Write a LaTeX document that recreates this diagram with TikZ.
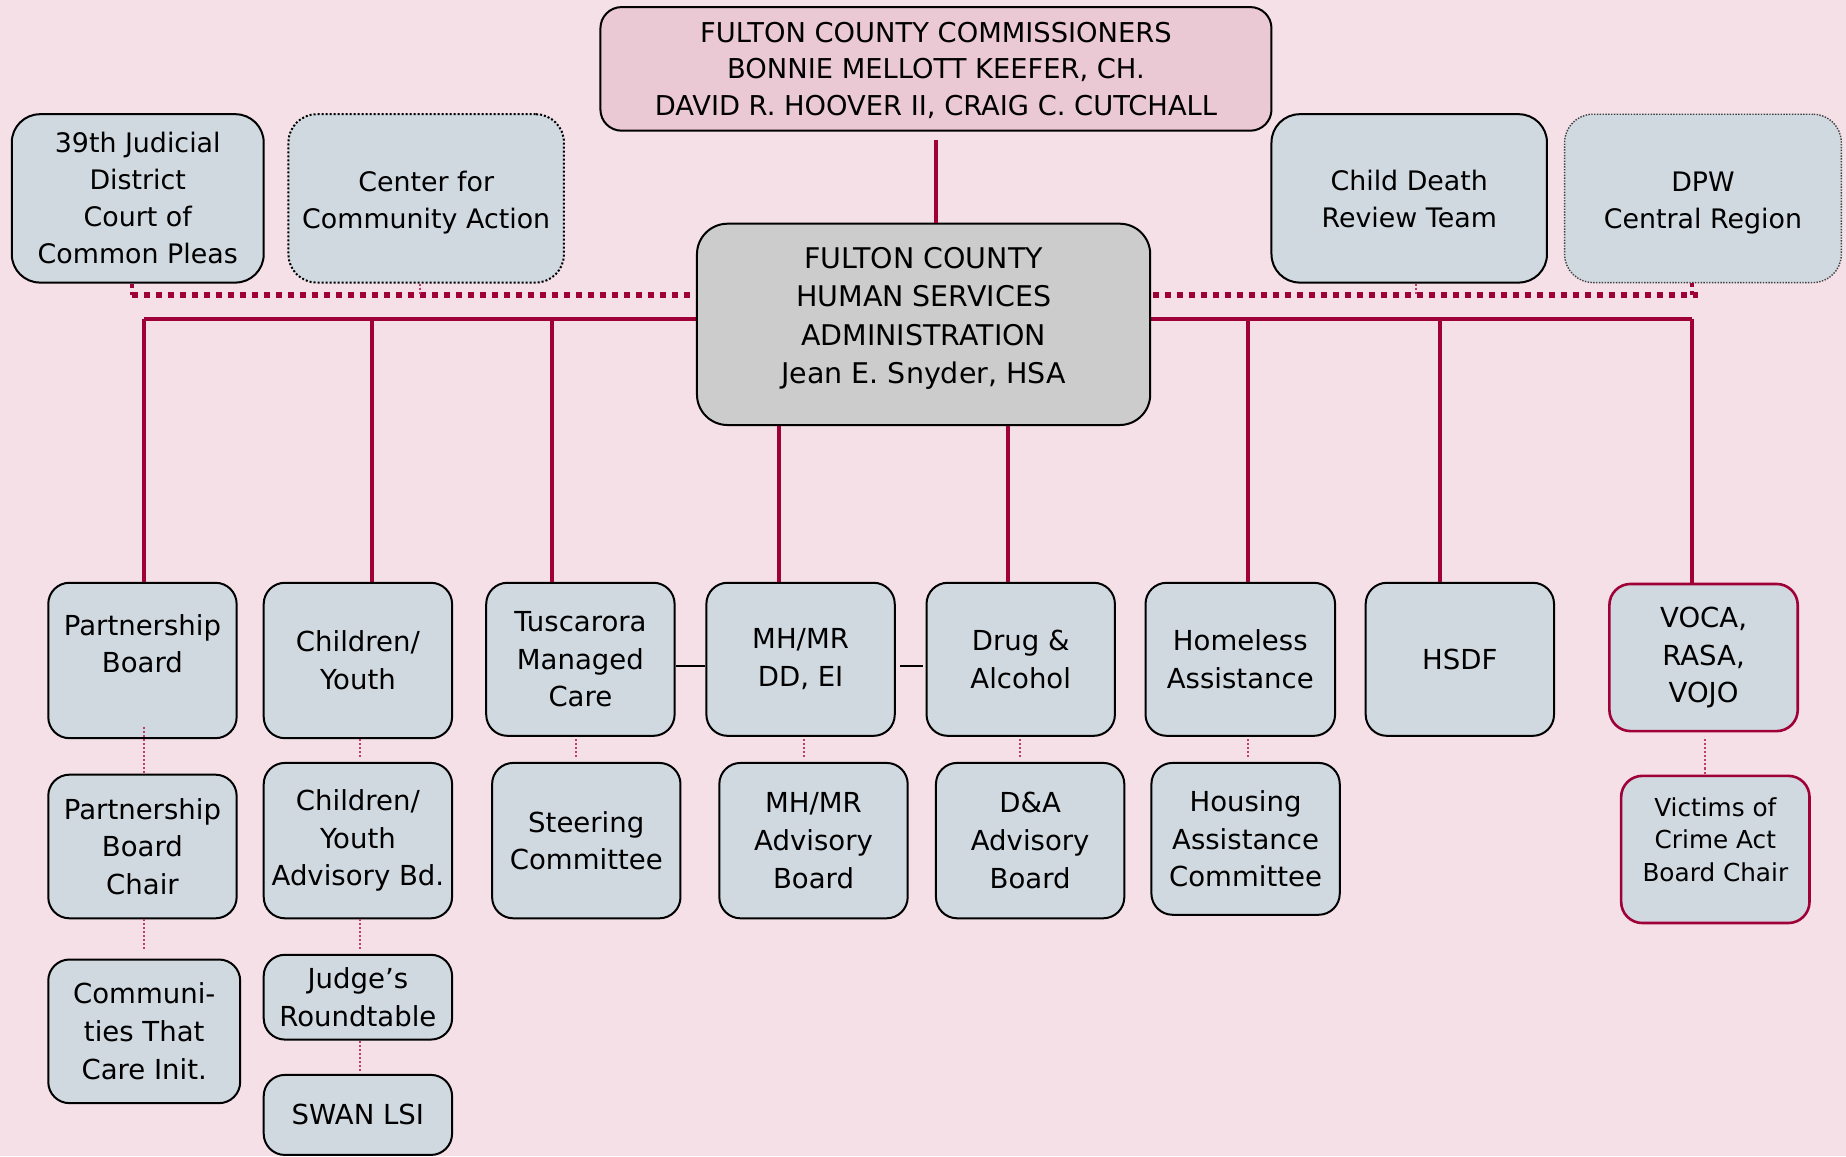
\documentclass[tikz,border=0pt]{standalone}
\usepackage{fontspec}
\setmainfont{DejaVu Sans}
\definecolor{bgc}{RGB}{244,224,230}
\definecolor{boxc}{RGB}{208,216,224}
\definecolor{commc}{RGB}{234,200,212}
\definecolor{hsac}{RGB}{204,204,204}
\definecolor{redc}{RGB}{160,0,56}
\definecolor{dotc}{RGB}{190,60,110}
% box from corners: style, x1, y1, x2, y2, name
\newcommand{\obox}[6]{\node[#1, minimum width={(#4-#2)*0.5pt}, minimum height={(#5-#3)*0.5pt}] (#6) at ({(#2+#4)/2},{(#3+#5)/2})}
% text block moved up (positive) or down (negative) inside its box
\newcommand{\shifted}[2]{\raisebox{#1}[\height][\depth]{\begin{tabular}{@{}c@{}}#2\end{tabular}}}
\begin{document}
\begin{tikzpicture}[x=0.5pt,y=-0.5pt,
  base/.style={draw=black, line width=0.85pt, fill=boxc, inner sep=0pt, align=center,
    font=\fontsize{11.7}{16}\selectfont},
  topbox/.style={base, rounded corners=12pt, font=\fontsize{11.4}{15.7}\selectfont},
  rowbox/.style={base, rounded corners=9pt},
  redbox/.style={rowbox, draw=redc, line width=1.1pt},
  dotbox/.style={topbox, dash pattern=on 0.85pt off 0.85pt},
  finedotbox/.style={topbox, draw=black!75, line width=0.6pt, dash pattern=on 0.6pt off 0.6pt},
  commbox/.style={base, rounded corners=9pt, fill=commc, font=\fontsize{11.6}{15.5}\selectfont},
  hsabox/.style={base, rounded corners=13pt, fill=hsac, font=\fontsize{12.1}{16.3}\selectfont},
  redthick/.style={draw=redc, line width=1.7pt},
  reddots/.style={draw=redc, line width=2.55pt, dash pattern=on 2.55pt off 2.55pt},
  smalldots/.style={draw=redc, line width=1.7pt, dash pattern=on 1.7pt off 1.7pt},
  finedots/.style={draw=dotc, line width=0.85pt, dash pattern=on 0.85pt off 0.85pt},
  blk/.style={draw=black, line width=0.85pt}]
\path[use as bounding box, fill=bgc] (0,0) rectangle (1568,982);

% bus coordinates
\coordinate (busL) at (122,270.7);
\coordinate (busR) at (1437,270.7);
\coordinate (dotL) at (112,250.6);
\coordinate (dotR) at (1442,250.6);
\coordinate (dpwT) at (1437,250.6);
\coordinate (xcy) at (315.7,0);
\coordinate (xtus) at (469,0);
\coordinate (xmh) at (662,0);
\coordinate (xda) at (856,0);
\coordinate (xhom) at (1060,0);
\coordinate (xhsdf) at (1223,0);
\coordinate (xcca) at (356.4,0);
\coordinate (xcdrt) at (1202.7,0);

% lines behind HSA
\draw[reddots] (dotL) -- (dotR);
\draw[redthick] (busL) -- (busR);

% top
\obox{commbox}{510}{6}{1080}{111}{comm}
  {\shifted{-1pt}{FULTON COUNTY COMMISSIONERS\\BONNIE MELLOTT KEEFER, CH.\\DAVID R. HOOVER II, CRAIG C. CUTCHALL}};
\obox{hsabox}{592}{190}{977}{361}{hsa}
  {\shifted{2.5pt}{FULTON COUNTY\\HUMAN SERVICES\\ADMINISTRATION\\Jean E. Snyder, HSA}};
\obox{topbox}{10}{97}{224}{240}{jud} {\shifted{-1pt}{39th Judicial\\District\\Court of\\Common Pleas}};
\obox{dotbox}{245}{97}{479}{240}{cca} {\shifted{-1.8pt}{Center for\\Community Action}};
\obox{topbox}{1080}{97}{1314}{240}{cdrt} {\shifted{-1.2pt}{Child Death\\Review Team}};
\obox{finedotbox}{1329}{97}{1564}{240}{dpw} {\shifted{-1.8pt}{DPW\\Central Region}};

% row 1
\obox{rowbox}{41}{495}{201}{627}{pb} {\shifted{6pt}{Partnership\\Board}};
\obox{rowbox}{224}{495}{384}{627}{cy} {Children/\\Youth};
\obox{rowbox}{413}{495}{573}{625}{tus} {Tuscarora\\Managed\\Care};
\obox{rowbox}{600}{495}{760}{625}{mh} {MH/MR\\DD, EI};
\obox{rowbox}{787}{495}{947}{625}{da} {Drug \&\\Alcohol};
\obox{rowbox}{973}{495}{1134}{625}{hom} {Homeless\\Assistance};
\obox{rowbox}{1160}{495}{1320}{625}{hsdf} {HSDF};
\obox{redbox}{1367}{496}{1527}{621}{voca} {VOCA,\\RASA,\\VOJO};

% row 2
\obox{rowbox}{41}{658}{201}{780}{pbc} {Partnership\\Board\\Chair};
\obox{rowbox}{224}{648}{384}{780}{cyab} {Children/\\Youth\\Advisory Bd.};
\obox{rowbox}{418}{648}{578}{780}{steer} {Steering\\Committee};
\obox{rowbox}{611}{648}{771}{780}{mhab} {MH/MR\\Advisory\\Board};
\obox{rowbox}{795}{648}{955}{780}{daab} {D\&A\\Advisory\\Board};
\obox{rowbox}{978}{648}{1138}{777}{hac} {Housing\\Assistance\\Committee};
\obox{redbox, font=\fontsize{10.5}{14}\selectfont}{1377}{659}{1537}{784}{vict}
  {\shifted{3pt}{Victims of\\Crime Act\\Board Chair}};

% row 3
\obox{rowbox}{41}{815}{204}{937}{ctc} {Communi-\\ties That\\Care Init.};
\obox{rowbox}{224}{811}{384}{883}{jr} {Judge’s\\Roundtable};
\obox{rowbox}{224}{913}{384}{981}{swan} {SWAN LSI};

% commissioners to HSA
\draw[redthick, line width=1.9pt] ([yshift=-3.5pt]comm.south) -- (comm.south |- hsa.north);

% bus drops
\draw[redthick] (busL) -- (busL |- pb.north);
\draw[redthick] (busL -| xcy) -- (xcy |- cy.north);
\draw[redthick] (busL -| xtus) -- (xtus |- tus.north);
\draw[redthick] (busL -| xhom) -- (xhom |- hom.north);
\draw[redthick] (busL -| xhsdf) -- (xhsdf |- hsdf.north);
\draw[redthick] (busR) -- (busR |- voca.north);
\draw[redthick] (hsa.south -| xmh) -- (xmh |- mh.north);
\draw[redthick] (hsa.south -| xda) -- (xda |- da.north);

% dotted ticks to top boxes
\draw[smalldots] (jud.south -| dotL) -- (dotL);
\draw[smalldots] (dpw.south -| dpwT) -- (dpwT);
\draw[finedots] (cca.south -| xcca) -- (dotL -| xcca);
\draw[finedots] (cdrt.south -| xcdrt) -- (dotL -| xcdrt);

% black side links
\draw[blk] ([yshift=-3pt]tus.east) -- ([yshift=-3pt]mh.west);
\draw[blk] ([xshift=2pt,yshift=-3pt]mh.east) -- ([xshift=-1pt,yshift=-3pt]da.west);

% fine dotted links
\draw[finedots] ([yshift=5pt]pb.south -| busL) -- (pbc.north -| busL);
\draw[finedots] (pbc.south -| busL) -- ([yshift=3.5pt]ctc.north -| busL);
\coordinate (xc2) at (305.8,0);
\draw[finedots] (cy.south -| xc2) -- ([yshift=1.5pt]cyab.north -| xc2);
\draw[finedots] (cyab.south -| xc2) -- ([yshift=1.5pt]jr.north -| xc2);
\draw[finedots] (jr.south -| xc2) -- ([yshift=1pt]swan.north -| xc2);
\coordinate (xt2) at (489,0);
\draw[finedots] ([yshift=-1pt]tus.south -| xt2) -- ([yshift=1.5pt]steer.north -| xt2);
\coordinate (xm2) at (683,0);
\draw[finedots] ([yshift=-1pt]mh.south -| xm2) -- ([yshift=1.5pt]mhab.north -| xm2);
\coordinate (xd2) at (866,0);
\draw[finedots] ([yshift=-1pt]da.south -| xd2) -- ([yshift=1.5pt]daab.north -| xd2);
\draw[finedots] ([yshift=-1pt]hom.south -| xhom) -- ([yshift=1.5pt]hac.north -| xhom);
\coordinate (xv2) at (1448,0);
\draw[finedots] ([yshift=-3pt]voca.south -| xv2) -- (vict.north -| xv2);
\end{tikzpicture}
\end{document}
